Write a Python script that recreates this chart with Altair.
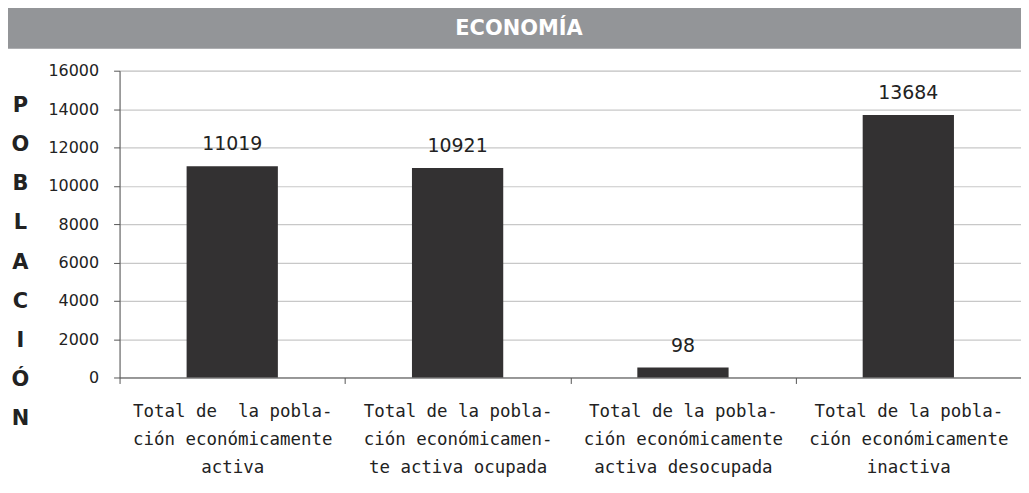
import altair as alt
import pandas as pd

categories = [
    "Total de\u00a0 la pobla-|ción económicamente|activa",
    "Total de la pobla-|ción económicamen-|te activa ocupada",
    "Total de la pobla-|ción económicamente|activa desocupada",
    "Total de la pobla-|ción económicamente|inactiva",
]
bar_heights = [11019, 10921, 520, 13684]
value_labels = ["11019", "10921", "98", "13684"]
y_ticks = [0, 2000, 4000, 6000, 8000, 10000, 12000, 14000, 16000]
y_title_letters = ["P", "O", "B", "L", "A", "C", "I", "Ó", "N"]
chart_title = ["ECONOMÍA"]

df = pd.DataFrame({"cat": categories, "val": bar_heights, "lab": value_labels})

W, H = 905, 308
FONT = "DejaVu Sans"
LFONT = "DejaVu Sans Mono"

x_enc = alt.X(
    "cat:N",
    sort=categories,
    scale=alt.Scale(paddingInner=0, paddingOuter=0),
    axis=alt.Axis(
        title=None,
        labelAngle=0,
        labelExpr="split(datum.label, '|')",
        labelFontSize=17.5,
        labelFont=LFONT,
        labelColor="#222222",
        labelLineHeight=28,
        labelPadding=19,
        labelBaseline="top",
        labelOverlap=False,
        labelLimit=300,
        ticks=True,
        tickBand="extent",
        tickSize=6,
        tickColor="#555555",
        domainColor="#555555",
        grid=False,
    ),
)

y_enc = alt.Y(
    "val:Q",
    scale=alt.Scale(domain=[0, 16000]),
    axis=alt.Axis(
        values=y_ticks,
        format="d",
        labelOverlap=False,
        title=y_title_letters,
        titleAngle=0,
        titleFont=FONT,
        titleFontSize=21,
        titleFontWeight="bold",
        titleColor="#222222",
        titleLineHeight=39.3,
        titleX=-100,
        titleY=35,
        titleAlign="center",
        titleBaseline="middle",
        labelFont=FONT,
        labelFontSize=16,
        labelColor="#222222",
        labelPadding=15,
        tickSize=6,
        tickColor="#555555",
        domainColor="#555555",
        gridColor="#c8c8c8",
        gridWidth=1.2,
    ),
)

bars = alt.Chart(df).mark_bar(
    color="#333132", width=alt.RelativeBandSize(0.405)
).encode(x=x_enc, y=y_enc)

texts = alt.Chart(df).mark_text(
    baseline="bottom", dy=-12, fontSize=19, font=FONT, color="#222222"
).encode(x=x_enc, y=y_enc, text="lab:N")

title_df = pd.DataFrame({"t": chart_title})
title_bar = alt.Chart(title_df).mark_rect(color="#939598", clip=False).encode(
    x=alt.value(-112), x2=alt.value(W + 1), y=alt.value(-65), y2=alt.value(-22)
)
title_text = alt.Chart(title_df).mark_text(
    color="white", fontSize=21, fontWeight="bold", font=FONT, clip=False
).encode(x=alt.value(521 - 120), y=alt.value(-42), text="t:N")

chart = (
    alt.layer(title_bar, title_text, bars, texts)
    .properties(
        width=W,
        height=H,
        autosize=alt.AutoSizeParams(type="none"),
        padding={"left": 112, "top": 62, "right": 0, "bottom": 110},
    )
    .configure_view(stroke=None)
    .configure(background="white")
)

chart.save("out.html", embed_options={"renderer": "svg", "actions": False})
